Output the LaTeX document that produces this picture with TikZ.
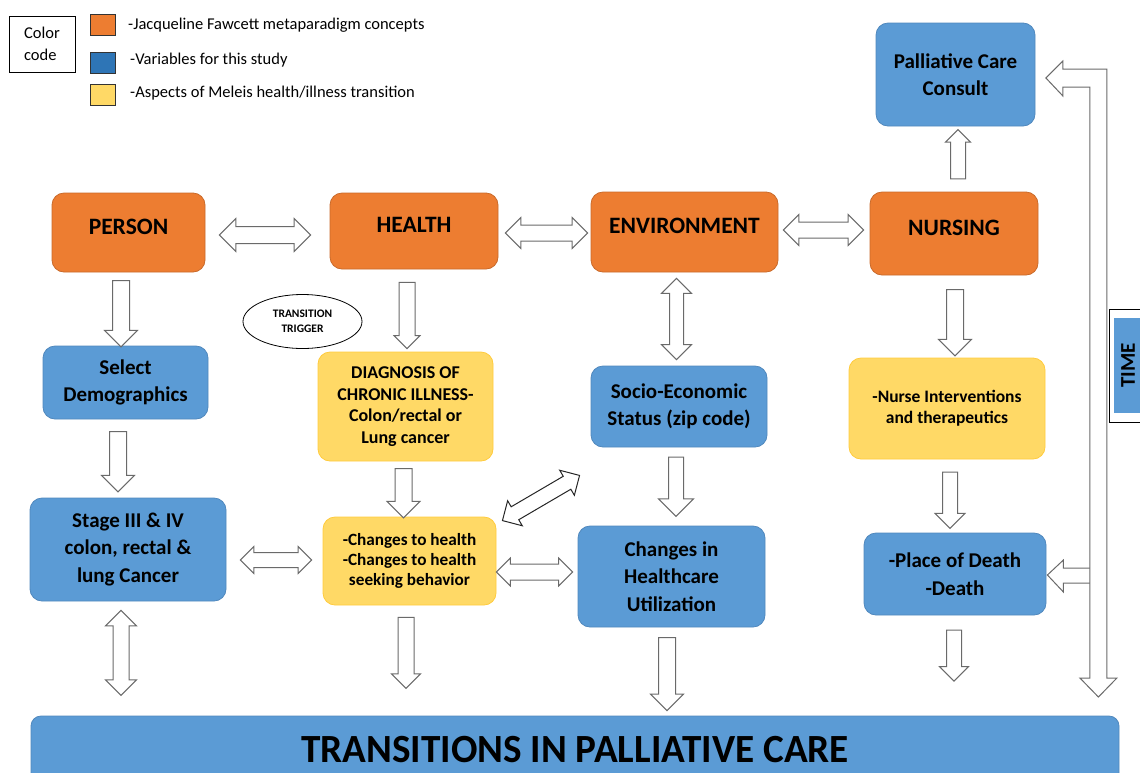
\documentclass[tikz,border=0pt]{standalone}
\usepackage{fontspec}
\setmainfont{Carlito}
\usepackage{graphicx}
\usetikzlibrary{shapes.arrows, shapes.geometric, calc}

\definecolor{FawOrange}{HTML}{ED7D31}
\definecolor{FawOrangeLine}{HTML}{C96A2A}
\definecolor{StudyBlue}{HTML}{5B9BD5}
\definecolor{StudyBlueLine}{HTML}{5088BD}
\definecolor{KeyBlue}{HTML}{2E75B6}
\definecolor{MeleisYellow}{HTML}{FFD966}
\definecolor{MeleisYellowLine}{HTML}{FFCB3D}
\definecolor{ArrowGray}{HTML}{6A6A6A}

% one-way and two-way block arrows between two points
\newcommand{\onearrow}[3][]{%
  \path let \p1=(#2), \p2=(#3), \n1={veclen(\x2-\x1,\y2-\y1)}, \n2={atan2(\y2-\y1,\x2-\x1)} in
    node[blkarrow, #1, minimum height=\n1, rotate=\n2] at ($(\p1)!0.5!(\p2)$) {};}
\newcommand{\twoarrow}[3][]{%
  \path let \p1=(#2), \p2=(#3), \n1={veclen(\x2-\x1,\y2-\y1)}, \n2={atan2(\y2-\y1,\x2-\x1)} in
    node[dblarrow, #1, minimum height=\n1, rotate=\n2] at ($(\p1)!0.5!(\p2)$) {};}

\begin{document}
\begin{tikzpicture}[x=1pt, y=-1pt,
  box/.style={rounded corners=12pt, align=center, inner sep=2pt, line width=0.8pt},
  fawcett/.style={box, fill=FawOrange, draw=FawOrangeLine, font=\bfseries\fontsize{23.5}{28}\selectfont,
    text height=16, text depth=13},
  studyvar/.style={box, fill=StudyBlue, draw=StudyBlueLine, font=\bfseries\fontsize{21}{27.5}\selectfont},
  meleis/.style={box, fill=MeleisYellow, draw=MeleisYellowLine},
  keysq/.style={draw=black!80, line width=0.8pt, minimum width=25, minimum height=21, inner sep=0},
  keytext/.style={anchor=west, inner sep=0, font=\fontsize{16.5}{18}\selectfont},
  arrowsize/.style 2 args={inner ysep=#1, single arrow head extend=#2, double arrow head extend=#2},
  blkarrow/.style={single arrow, draw=ArrowGray, fill=white, line width=1pt, inner xsep=0,
    arrowsize={8}{8}},
  dblarrow/.style={double arrow, draw=ArrowGray, fill=white, line width=1pt, inner xsep=0,
    arrowsize={7.5}{7.5}},
  linkarrow/.style={draw=ArrowGray, fill=white, line width=1pt, line join=miter}]
  \useasboundingbox (0,0) rectangle (1140,772);

  % Color code
  \node (colorcode) [draw=black, line width=0.8pt, minimum width=66, minimum height=56, inner sep=0,
    align=left, font=\fontsize{16.5}{22}\selectfont] at (42,44) {Color\\code};
  \node (keyorange) [keysq, fill=FawOrange] at (103,25) {};
  \node (keyblue) [keysq, fill=KeyBlue] at (103,63) {};
  \node (keyyellow) [keysq, fill=MeleisYellow] at (103,95) {};
  \node (keyorangetxt) [keytext] at (128,25) {-Jacqueline Fawcett metaparadigm concepts};
  \node (keybluetxt) [keytext] at (130,60) {-Variables for this study};
  \node (keyyellowtxt) [keytext] at (130,93) {-Aspects of Meleis health/illness transition};

  % Metaparadigm concepts
  \node (person) [fawcett, minimum width=153, minimum height=79] at (128.5,232.5) {PERSON};
  \node (health) [fawcett, minimum width=168, minimum height=76] at (414,231) {HEALTH};
  \node (environment) [fawcett, minimum width=187, minimum height=80] at (684.5,232) {ENVIRONMENT};
  \node (nursing) [fawcett, minimum width=168, minimum height=83] at (954,233.5) {NURSING};

  % Study variables
  \node (consult) [studyvar, minimum width=159, minimum height=103] at (955.5,74.5) {Palliative Care\\Consult};
  \node (demographics) [studyvar, minimum width=165, minimum height=73] at (125.5,382.5) {Select\\Demographics};
  \node (stage) [studyvar, minimum width=196, minimum height=103] at (128,549.5) {Stage III \& IV\\colon, rectal \&\\lung Cancer};
  \node (socio) [studyvar, minimum width=176, minimum height=81] at (679,406.5) {Socio-Economic\\Status (zip code)};
  \node (utilization) [studyvar, minimum width=187, minimum height=101] at (671.5,576.5) {Changes in\\Healthcare\\Utilization};
  \node (death) [studyvar, minimum width=182, minimum height=82] at (955,574) {-Place of Death\\-Death};

  % Meleis transition aspects
  \node (trigger) [ellipse, draw=black, line width=0.8pt, minimum width=119, minimum height=54, inner sep=0,
    align=center, font=\bfseries\fontsize{11.5}{15}\selectfont] at (302.5,321.5) {TRANSITION\\TRIGGER};
  \node (diagnosis) [meleis, minimum width=175, minimum height=109, font=\bfseries\fontsize{18}{21.5}\selectfont]
    at (405.5,406.5) {DIAGNOSIS OF\\CHRONIC ILLNESS-\\Colon/rectal or\\Lung cancer};
  \node (changes) [meleis, minimum width=173, minimum height=88, font=\bfseries\fontsize{17.2}{20}\selectfont]
    at (409.5,561) {-Changes to health\\-Changes to health\\seeking behavior};
  \node (interventions) [meleis, minimum width=196, minimum height=101, font=\bfseries\fontsize{17.5}{21}\selectfont]
    at (947,408.5) {-Nurse Interventions\\and therapeutics};

  % Outcome banner
  \node (banner) [box, fill=StudyBlue, draw=StudyBlueLine, rounded corners=10pt, minimum width=1088,
    minimum height=68] at (575,750) {\bfseries\fontsize{40}{40}\selectfont\scalebox{0.98}[1]{TRANSITIONS IN PALLIATIVE CARE}};

  % Time frame
  \node (timeframe) [draw=black, fill=white, line width=0.8pt, minimum width=42, minimum height=113, inner sep=0]
    at (1130,365.5) {};
  \node (time) [fill=StudyBlue, minimum width=28, minimum height=95, inner sep=0,
    font=\bfseries\fontsize{21}{21}\selectfont] at (1128,365.5) {\rotatebox{90}{TIME}};

  % Arrows along the top row
  \twoarrow[arrowsize={8}{8}]{$(person.east)+(14,2.5)$}{$(health.west)+(-19,4)$}
  \twoarrow{$(health.east)+(7,2)$}{$(environment.west)+(-3,1)$}
  \twoarrow{$(environment.east)+(5,-2)$}{$(nursing.west)+(-6,-3.5)$}
  \onearrow[arrowsize={7}{5}]{$(nursing.north)+(4,-9)$}{$(consult.south)+(2.5,7)$}

  % Arrows down the columns
  \onearrow{$(person.south)+(-7.5,4)$}{$(demographics.north)+(-4.5,-3)$}
  \onearrow{$(demographics.south)+(-7.5,8)$}{$(stage.north)+(-10,-10)$}
  \twoarrow{$(stage.south)+(-7,9)$}{$(stage.south)+(-7,94)$}
  \onearrow[arrowsize={7.5}{5}]{$(health.south)+(-7,9)$}{$(diagnosis.north)+(1.5,-7)$}
  \onearrow{$(diagnosis.south)+(-2,3)$}{$(changes.north)+(-6,-3)$}
  \onearrow[arrowsize={7.5}{6.5}]{$(changes.south)+(-3.5,8)$}{$(changes.south)+(-3.5,79)$}
  \twoarrow[arrowsize={6.5}{8}]{$(environment.south)+(-8,6)$}{$(socio.north)+(-2.5,-6)$}
  \onearrow[arrowsize={7}{10}]{$(socio.south)+(-3,6)$}{$(utilization.north)+(4.5,-13)$}
  \onearrow{$(utilization.south)+(-4.5,6)$}{$(utilization.south)+(-4.5,79)$}
  \onearrow{$(nursing.south)+(1,10)$}{$(interventions.north)+(8,-6)$}
  \onearrow[arrowsize={7}{7.5}]{$(interventions.south)+(3,9)$}{$(death.north)+(-5,-8)$}
  \onearrow[arrowsize={7}{7}]{$(death.south)+(-1,11)$}{$(death.south)+(-1,62)$}

  % Arrows across the lower rows
  \twoarrow[arrowsize={7}{6}]{$(stage.east)+(14,10.5)$}{$(changes.west)+(-11,-1)$}
  \twoarrow[arrowsize={7.5}{6}]{$(changes.east)+(0,11)$}{$(utilization.west)+(-5,-4.5)$}
  \twoarrow[draw=black!85, arrowsize={7}{7}]{$(changes.north east)+(6,4)$}{$(socio.south west)+(-11,28)$}

  % Time arrow back to the consult and to death
  \draw[linkarrow] ($(death.east)+(1,1)$) -- ++(16,-15) -- ++(0,8) -- ++(28,0) -- ++(0,15)
    -- ++(-28,0) -- ++(0,9) -- cycle;
  \draw[linkarrow] ($(consult.east)+(10.5,3.5)$) -- ++(17,-17) -- ++(0,8) -- ++(44,0) -- ++(0,609)
    -- ++(10,0) -- ++(-18.5,19) -- ++(-18.5,-19) -- ++(10,0) -- ++(0,-591) -- ++(-27,0) -- ++(0,9) -- cycle;
\end{tikzpicture}
\end{document}
